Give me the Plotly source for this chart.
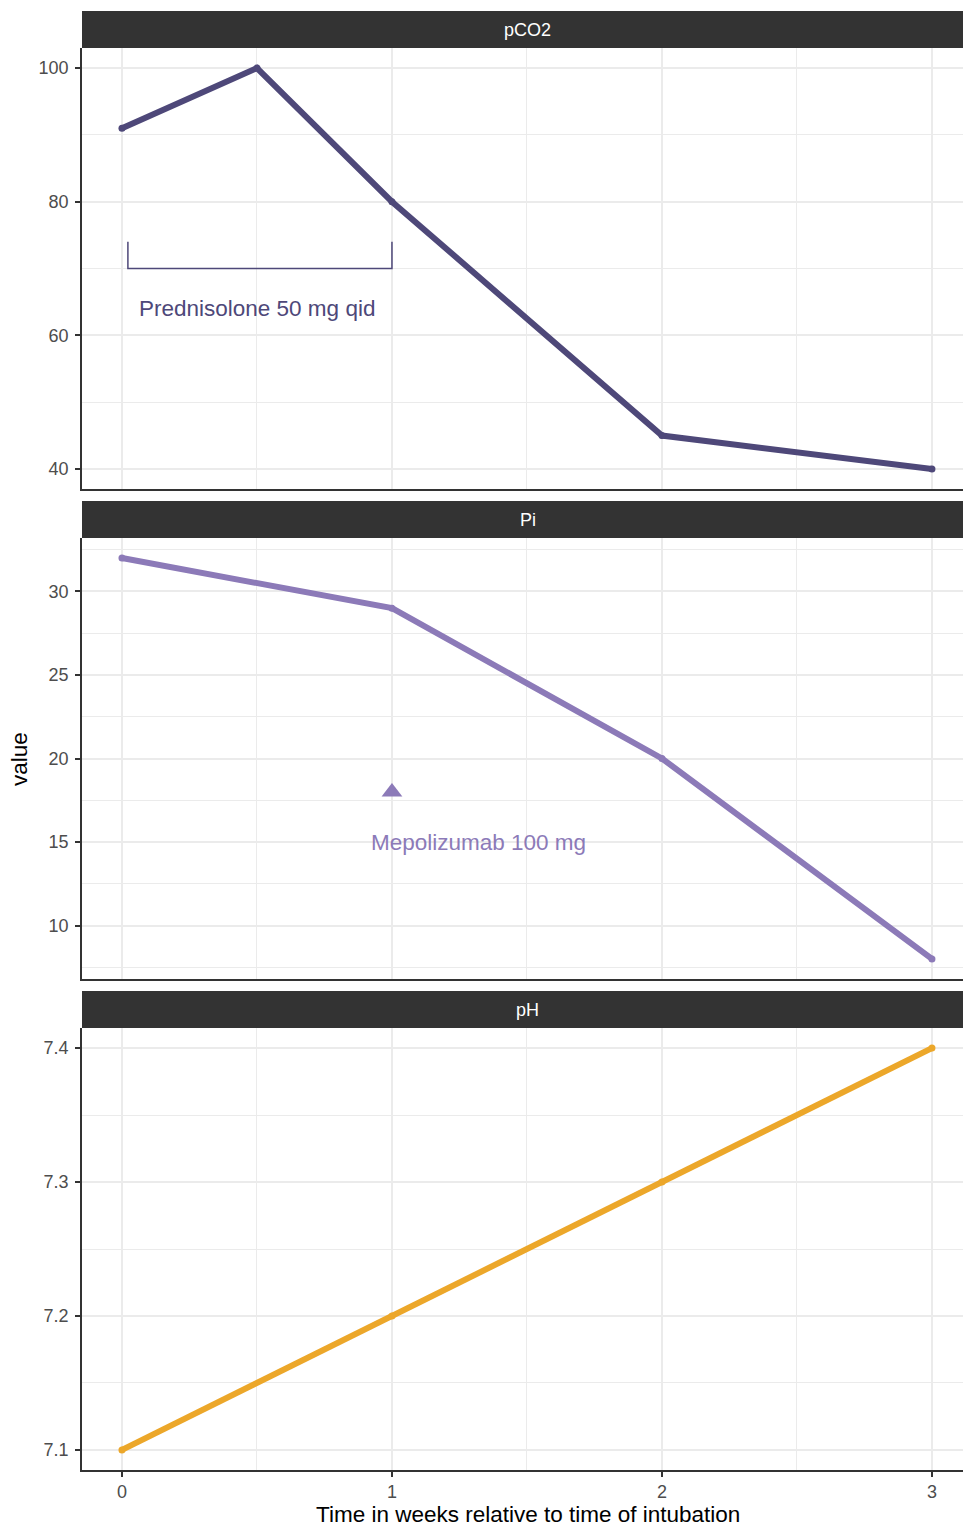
import plotly.graph_objects as go

# ---- data ----
weeks_pco2 = [0, 0.5, 1, 2, 3]
pco2 = [91, 100, 80, 45, 40]
weeks_pi = [0, 1, 2, 3]
pi_vals = [32, 29, 20, 8]
weeks_ph = [0, 1, 2, 3]
ph_vals = [7.1, 7.2, 7.3, 7.4]

panel_names = ["pCO2", "Pi", "pH"]
x_ticks = [0, 1, 2, 3]
y_ticks_pco2 = [40, 60, 80, 100]
y_ticks_pi = [10, 15, 20, 25, 30]
y_ticks_ph = [7.1, 7.2, 7.3, 7.4]

bracket_x = [0.022, 0.022, 1, 1]
bracket_y = [74, 70, 70, 74]
pred_label = "Prednisolone 50 mg qid"
pred_pos = (0.5, 64)
mepo_marker = (1, 18)
mepo_label = "Mepolizumab 100 mg"
mepo_pos = (1.32, 15)

col_pco2 = "#4E4879"
col_pi = "#8C7AB8"
col_ph = "#ECA72A"

W, H = 964, 1526
FONT = "Liberation Sans, Arial, sans-serif"

def fy(px):
    return 1 - px / H

xl, xr = 82 / W, 963 / W
xc = 527.5 / W  # centre of the full (cropped) panel width
panels_px = [(48, 489), (538, 979), (1028, 1470)]
strips_px = [(11, 48), (501, 538), (991, 1028)]

fig = go.Figure()

# data traces
fig.add_trace(go.Scatter(x=weeks_pco2, y=pco2, mode="lines+markers",
                         line=dict(color=col_pco2, width=6), marker=dict(size=7, color=col_pco2),
                         xaxis="x", yaxis="y", showlegend=False))
fig.add_trace(go.Scatter(x=bracket_x, y=bracket_y, mode="lines",
                         line=dict(color=col_pco2, width=1.5), xaxis="x", yaxis="y", showlegend=False))
fig.add_trace(go.Scatter(x=weeks_pi, y=pi_vals, mode="lines+markers",
                         line=dict(color=col_pi, width=6), marker=dict(size=7, color=col_pi),
                         xaxis="x2", yaxis="y2", showlegend=False))
fig.add_trace(go.Scatter(x=[mepo_marker[0]], y=[mepo_marker[1]], mode="markers",
                         marker=dict(symbol="triangle-up", size=18, color=col_pi),
                         xaxis="x2", yaxis="y2", showlegend=False))
fig.add_trace(go.Scatter(x=weeks_ph, y=ph_vals, mode="lines+markers",
                         line=dict(color=col_ph, width=6), marker=dict(size=7, color=col_ph),
                         xaxis="x3", yaxis="y3", showlegend=False))

grid = "#EBEBEB"
xcommon = dict(range=[-0.148, 3.115], tickvals=x_ticks, showgrid=True, gridcolor=grid, gridwidth=1.5,
               minor=dict(dtick=0.5, tick0=0, showgrid=True, gridcolor=grid, gridwidth=0.8, ticks=""),
               zeroline=False, showline=True, linecolor="#333333", linewidth=1.5,
               tickfont=dict(size=18, color="#4D4D4D", family=FONT), domain=[xl, xr])

def ycommon(rng, ticks, minor_d, minor0, dom):
    return dict(range=rng, tickvals=ticks, domain=dom, showgrid=True, gridcolor=grid, gridwidth=1.5,
                minor=dict(dtick=minor_d, tick0=minor0, showgrid=True, gridcolor=grid, gridwidth=0.8, ticks=""),
                zeroline=False, showline=True, linecolor="#333333", linewidth=1.5,
                ticks="outside", ticklen=5, tickwidth=1.5, tickcolor="#333333",
                tickfont=dict(size=18, color="#4D4D4D", family=FONT), ticklabelstandoff=3)

doms = [[fy(b), fy(t)] for (t, b) in panels_px]

fig.update_layout(
    width=W, height=H, autosize=False,
    margin=dict(l=0, r=0, t=0, b=0),
    paper_bgcolor="white", plot_bgcolor="white",
    font=dict(family=FONT),
    xaxis=dict(**xcommon, anchor="y", showticklabels=False, ticks=""),
    xaxis2=dict(**xcommon, anchor="y2", showticklabels=False, ticks=""),
    xaxis3=dict(**xcommon, anchor="y3", showticklabels=True, ticks="outside", ticklen=5,
                tickwidth=1.5, tickcolor="#333333"),
    yaxis=ycommon([37, 103], y_ticks_pco2, 10, 30, doms[0]),
    yaxis2=ycommon([6.8, 33.2], y_ticks_pi, 5, 7.5, doms[1]),
    yaxis3=ycommon([7.085, 7.415], y_ticks_ph, 0.1, 7.05, doms[2]),
)
fig.layout.yaxis.anchor = "x"
fig.layout.yaxis2.anchor = "x2"
fig.layout.yaxis3.anchor = "x3"

shapes = []
annotations = []
for i, (t, b) in enumerate(strips_px):
    shapes.append(dict(type="rect", xref="paper", yref="paper", x0=xl, x1=xr, y0=fy(b), y1=fy(t),
                       fillcolor="#333333", line=dict(width=0), layer="above"))
    annotations.append(dict(text=panel_names[i], xref="paper", yref="paper", x=xc,
                            y=fy((t + b) / 2), showarrow=False, xanchor="center", yanchor="middle",
                            font=dict(size=18, color="white", family=FONT)))
# dotted vertical line at x=0 in each panel
for ax in ["x", "x2", "x3"]:
    yr = "y" + ax[1:] + " domain" if ax != "x" else "y domain"
    shapes.append(dict(type="line", xref=ax, yref=yr, x0=0, x1=0, y0=0, y1=1,
                       line=dict(color="#A0A0A0", width=1.5, dash="3px,4px"), layer="below"))

annotations.append(dict(text=pred_label, x=pred_pos[0], y=pred_pos[1], xref="x", yref="y",
                        showarrow=False, font=dict(size=22.5, color=col_pco2, family=FONT)))
annotations.append(dict(text=mepo_label, x=mepo_pos[0], y=mepo_pos[1], xref="x2", yref="y2",
                        showarrow=False, font=dict(size=22.5, color=col_pi, family=FONT)))
annotations.append(dict(text="Time in weeks relative to time of intubation", xref="paper", yref="paper",
                        x=xc, y=fy(1514), showarrow=False, xanchor="center", yanchor="middle",
                        font=dict(size=22.5, color="black", family=FONT)))
annotations.append(dict(text="value", xref="paper", yref="paper", x=20 / W, y=fy(759), textangle=-90,
                        showarrow=False, xanchor="center", yanchor="middle",
                        font=dict(size=22.5, color="black", family=FONT)))

fig.update_layout(shapes=shapes, annotations=annotations)
fig.write_html("out.html", config={"displayModeBar": False},
               post_script="document.body.style.margin='0';document.body.style.padding='0';")
